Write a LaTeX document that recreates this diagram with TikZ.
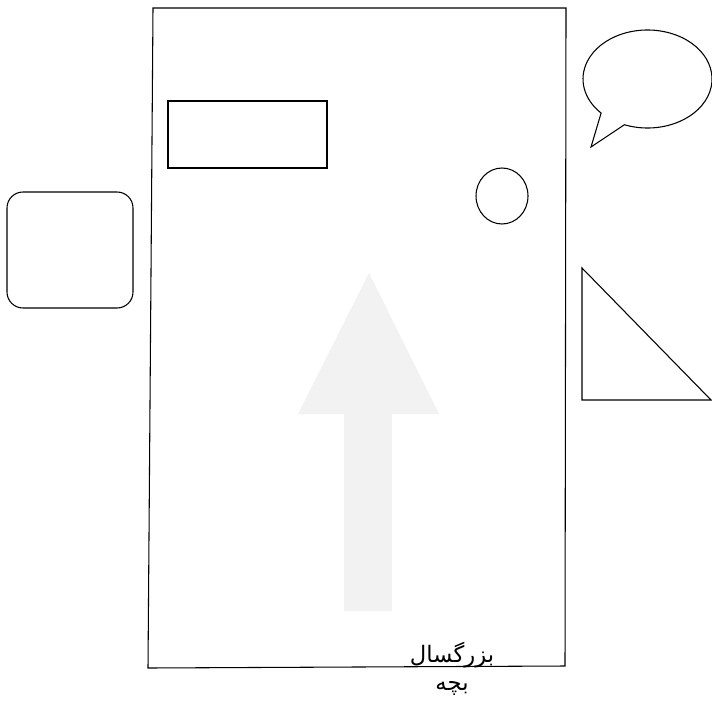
\documentclass[tikz,border=0pt]{standalone}
\usepackage{fontspec}
\newfontfamily\arabicfont[Script=Arabic]{DejaVu Sans}
\TeXXeTstate=1
\usetikzlibrary{calc}

\begin{document}
\begin{tikzpicture}[x=0.75pt, y=0.75pt, line width=0.8pt]
\useasboundingbox (0,0) rectangle (712,701);
% page frame
\coordinate (TL) at (153,693);
\coordinate (TR) at (566,693);
\coordinate (BR) at (565,35);
\coordinate (BL) at (148,33);
% up arrow
\coordinate (tip) at (369,428);
\coordinate (HL) at (298,287);
\coordinate (HR) at (439,287);
\fill[gray!10] (tip) -- (HR) -- (392,287) -- (392,90) -- (344,90) -- (344,287) -- (HL) -- cycle;
\draw (TL) -- (TR) -- (BR) -- (BL) -- cycle;
\draw (168,533) rectangle (327,600);
\draw (502,505) ellipse [x radius=26, y radius=28];
\draw[rounded corners=12pt] (7,393) rectangle (133,509);
% speech bubble
\coordinate (S) at (647.5,622);
\coordinate (T) at (591,554);
\draw ($(S)+(249:64.5 and 49)$) arc[start angle=249, end angle=584, x radius=64.5, y radius=49] -- (T) -- cycle;
% triangle
\draw (582,433) -- (582,301) -- (711,301) -- cycle;
\node[font=\arabicfont\fontsize{17}{21}\selectfont, align=center, inner sep=0pt] (label) at (452,32)
  {\beginR بزرگسال\endR\\\beginR بچه\endR};
\end{tikzpicture}
\end{document}
